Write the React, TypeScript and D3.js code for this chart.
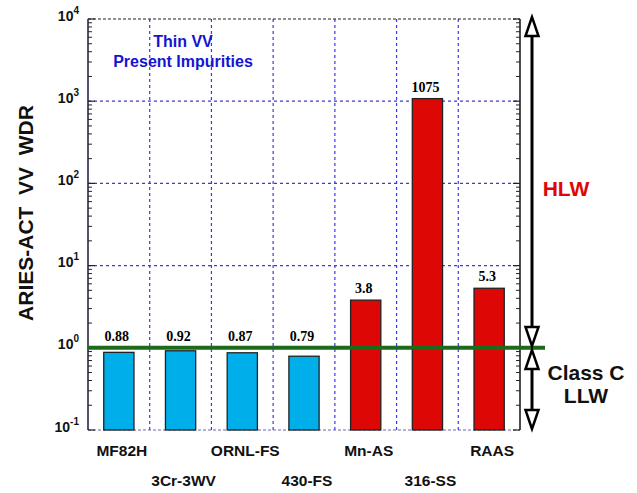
import React from "react";
import * as d3 from "d3";

const categories = ["MF82H", "3Cr-3WV", "ORNL-FS", "430-FS", "Mn-AS", "316-SS", "RAAS"];
const values = [0.88, 0.92, 0.87, 0.79, 3.8, 1075, 5.3];
const valueLabels = ["0.88", "0.92", "0.87", "0.79", "3.8", "1075", "5.3"];
const barGroups = ["low", "low", "low", "low", "high", "high", "high"];
const yTickExps = [-1, 0, 1, 2, 3, 4];

const W = 637, H = 493;
const L = 88, R = 520, T = 19, B = 430;

export default function App() {
  const y = d3.scaleLog().domain([0.1, 10000]).range([B, T]);
  const x = d3.scaleBand<string>().domain(categories).range([L, R]).padding(0);
  const bw = x.bandwidth() * 0.49;
  const gridBlue = "#3a3ae0";
  const minor: number[] = [];
  for (let e = -1; e < 4; e++) for (let m = 2; m <= 9; m++) minor.push(m * Math.pow(10, e));
  const font = "Arial, 'Liberation Sans', sans-serif";
  const ax = 532;
  const yOne = y(1);
  const arrowHead = (apexY: number, dir: number, key: string) => {
    // dir = -1 pointing up, 1 pointing down
    const baseY = apexY - dir * 19;
    return (
      <path key={key}
        d={`M${ax},${apexY} L${ax - 6.5},${baseY} L${ax + 6.5},${baseY} Z`}
        fill="white" stroke="black" strokeWidth={2.5} strokeLinejoin="miter" />
    );
  };
  return (
    <svg width={W} height={H} style={{ position: "absolute", left: 0, top: 0, background: "white" }}
      fontFamily={font}>
      {/* horizontal grid */}
      {yTickExps.filter(e => e > -1 && e < 4).map(e => (
        <line key={"hg" + e} x1={L} x2={R} y1={y(Math.pow(10, e))} y2={y(Math.pow(10, e))}
          stroke={gridBlue} strokeWidth={1.2} strokeDasharray="3,3" />
      ))}
      {/* vertical grid */}
      {categories.slice(1).map(c => (
        <line key={"vg" + c} x1={x(c)} x2={x(c)} y1={T} y2={B}
          stroke={gridBlue} strokeWidth={1.2} strokeDasharray="3,3" />
      ))}
      {/* frame top/bottom */}
      <line x1={L} x2={R} y1={T} y2={T} stroke="#222" strokeWidth={1.2} strokeDasharray="3,2" />
      <line x1={L} x2={R} y1={B} y2={B} stroke="#6a6ab0" strokeWidth={1.2} strokeDasharray="3,2" />
      {/* bars */}
      {categories.map((c, i) => {
        const cx = (x(c) as number) + x.bandwidth() / 2;
        return (
          <rect key={"b" + c} x={cx - bw / 2} y={y(values[i])} width={bw} height={B - y(values[i])}
            fill={barGroups[i] === "low" ? "#00aeea" : "#dd0806"} stroke="#222" strokeWidth={1.3} />
        );
      })}
      {/* bar labels */}
      {categories.map((c, i) => {
        const cx = (x(c) as number) + x.bandwidth() / 2;
        const ly = y(Math.max(values[i], 1)) - 7;
        return (
          <text key={"l" + c} x={cx - 2} y={ly} textAnchor="middle"
            fontFamily="'Times New Roman', 'Liberation Serif', serif" fontWeight="bold" fontSize={14}>
            {valueLabels[i]}
          </text>
        );
      })}
      {/* axes */}
      <line x1={L} x2={L} y1={T} y2={B} stroke="#1a1a40" strokeWidth={1.5} />
      <line x1={R} x2={R} y1={T} y2={B} stroke="#111" strokeWidth={1.5} />
      {minor.map((v, i) => (
        <g key={"mt" + i}>
          <line x1={L} x2={L + 4} y1={y(v)} y2={y(v)} stroke="#222" strokeWidth={1} />
          <line x1={R} x2={R - 4} y1={y(v)} y2={y(v)} stroke="#222" strokeWidth={1} />
        </g>
      ))}
      {yTickExps.map(e => (
        <g key={"t" + e}>
          <line x1={L} x2={L + 7} y1={y(Math.pow(10, e))} y2={y(Math.pow(10, e))} stroke="#222" strokeWidth={1.2} />
          <line x1={R} x2={R - 7} y1={y(Math.pow(10, e))} y2={y(Math.pow(10, e))} stroke="#222" strokeWidth={1.2} />
          <text x={79} y={y(Math.pow(10, e)) + 1.5} textAnchor="end" fontWeight="bold" fontSize={14} fill="#111">
            10<tspan fontSize={10} dy={-7}>{e}</tspan>
          </text>
        </g>
      ))}
      {/* green line */}
      <line x1={L} x2={545} y1={yOne} y2={yOne} stroke="#1b6b1b" strokeWidth={4} />
      {/* category labels */}
      {categories.map((c, i) => {
        const cx = (x(c) as number) + x.bandwidth() / 2;
        return (
          <text key={"c" + c} x={cx + 3} y={i % 2 === 0 ? 456 : 486} textAnchor="middle"
            fontWeight="bold" fontSize={15.5} fill="#111">{c}</text>
        );
      })}
      {/* y title */}
      <text transform={`translate(33,213) rotate(-90)`} textAnchor="middle" fontWeight="bold" fontSize={21} fill="#111"
        style={{ whiteSpace: "pre" }}>
        {"ARIES-ACT  VV  WDR"}
      </text>
      {/* annotation */}
      <text x={183} y={47} textAnchor="middle" fontWeight="bold" fontSize={16} fill="#1414d2">Thin VV</text>
      <text x={183} y={67} textAnchor="middle" fontWeight="bold" fontSize={16} fill="#1414d2">Present Impurities</text>
      {/* arrows */}
      <line x1={ax} x2={ax} y1={30} y2={335} stroke="black" strokeWidth={3} />
      <line x1={ax} x2={ax} y1={360} y2={420} stroke="black" strokeWidth={3} />
      {arrowHead(17, -1, "a1")}
      {arrowHead(346, 1, "a2")}
      {arrowHead(350, -1, "a3")}
      {arrowHead(429, 1, "a4")}
      <text x={566} y={196} textAnchor="middle" fontWeight="bold" fontSize={21} fill="#dd0806">HLW</text>
      <text x={586} y={380} textAnchor="middle" fontWeight="bold" fontSize={21} fill="#111">Class C</text>
      <text x={586} y={403} textAnchor="middle" fontWeight="bold" fontSize={21} fill="#111">LLW</text>
    </svg>
  );
}
